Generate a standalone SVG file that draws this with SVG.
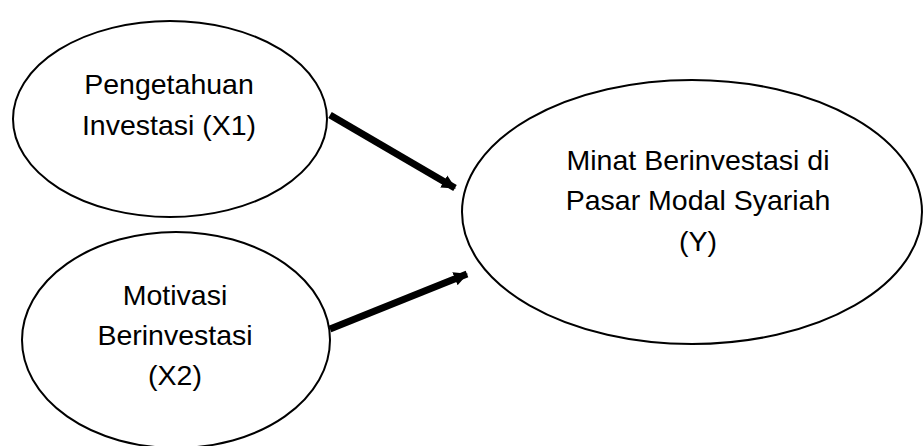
<svg xmlns="http://www.w3.org/2000/svg" width="924" height="446" viewBox="0 0 924 446">
<style>
.node ellipse{fill:#fff;stroke:#000;stroke-width:2}
.node text{font-family:"Liberation Sans",Arial,sans-serif;font-size:28.5px;fill:#000;text-anchor:middle}
.conn line{stroke:#000;stroke-width:7}
</style>
<defs>
<marker id="ah" markerUnits="userSpaceOnUse" markerWidth="14" markerHeight="16" viewBox="0 0 14 16" refX="13" refY="8" orient="auto">
<path d="M0,1 L14,8 L0,15 Z" fill="#000"/>
</marker>
</defs>
<rect width="924" height="446" fill="#fff"/>
<g id="x1" class="node">
<ellipse cx="170" cy="119" rx="157" ry="98"/>
<text x="169" y="94">Pengetahuan</text>
<text x="169" y="135">Investasi (X1)</text>
</g>
<g id="x2" class="node">
<ellipse cx="176" cy="340" rx="154" ry="108"/>
<text x="175" y="305">Motivasi</text>
<text x="175" y="345">Berinvestasi</text>
<text x="175" y="385">(X2)</text>
</g>
<g id="y" class="node">
<ellipse cx="692" cy="212" rx="230" ry="132"/>
<text x="698" y="170">Minat Berinvestasi di</text>
<text x="698" y="210">Pasar Modal Syariah</text>
<text x="698" y="251">(Y)</text>
</g>
<g id="connectors" class="conn">
<line x1="330" y1="115" x2="455" y2="188" marker-end="url(#ah)"/>
<line x1="330" y1="329" x2="467" y2="274" marker-end="url(#ah)"/>
</g>
</svg>
